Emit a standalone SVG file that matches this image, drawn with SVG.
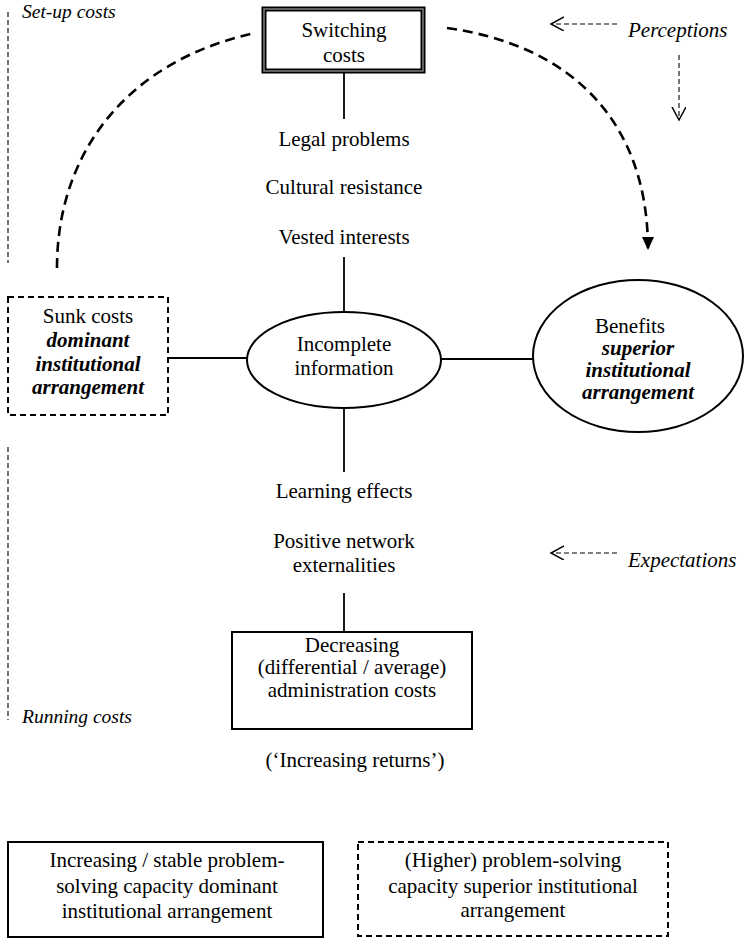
<svg xmlns="http://www.w3.org/2000/svg" width="745" height="939" viewBox="0 0 745 939">
<style>
text{font-family:"Liberation Serif","Times New Roman",serif;font-size:21px;fill:#000;text-anchor:middle}
.it{font-style:italic;text-anchor:start}
.sm{font-size:19.5px}
.bi{font-style:italic;font-weight:bold}
.ln{stroke:#000;stroke-width:1.8;fill:none}
.big{stroke:#000;stroke-width:2.6;fill:none;stroke-dasharray:10 6}
.thin{stroke:#000;stroke-width:1.1;fill:none;stroke-dasharray:5 3}
.box{fill:#fff;stroke:#000;stroke-width:2}
.dbox{fill:#fff;stroke:#000;stroke-width:2;stroke-dasharray:6 4}
</style>
<defs>
<marker id="solid" markerWidth="16" markerHeight="14" refX="13" refY="6" orient="auto" markerUnits="userSpaceOnUse">
<path d="M0,0 L13,6 L0,12 Z" fill="#000"/>
</marker>
<marker id="open" markerWidth="16" markerHeight="16" refX="13" refY="7" orient="auto" markerUnits="userSpaceOnUse">
<path d="M0,0 L13,7 L0,14" fill="none" stroke="#000" stroke-width="1.5"/>
</marker>
</defs>

<g id="connectors">
<line class="ln" x1="344" y1="72" x2="344" y2="119"/>
<line class="ln" x1="344" y1="257" x2="344" y2="312"/>
<line class="ln" x1="344" y1="408" x2="344" y2="472"/>
<line class="ln" x1="344" y1="593" x2="344" y2="632"/>
<line class="ln" x1="168" y1="358" x2="247" y2="358"/>
<line class="ln" x1="441" y1="359" x2="533" y2="359"/>
<path class="big" d="M57,268 C57,150 130,60 255,33"/>
<path class="big" d="M447,28 C570,45 648,120 648,250" marker-end="url(#solid)"/>
<line class="thin" x1="617" y1="24" x2="551" y2="24" marker-end="url(#open)"/>
<line class="thin" x1="679" y1="55" x2="679" y2="120" marker-end="url(#open)"/>
<line class="thin" x1="617" y1="553" x2="551" y2="553" marker-end="url(#open)"/>
<line class="thin" x1="8" y1="12" x2="8" y2="263"/>
<line class="thin" x1="8" y1="447" x2="8" y2="720"/>
</g>

<g id="labels">
<text class="it sm" x="22" y="18">Set-up costs</text>
<text class="it sm" x="22" y="723">Running costs</text>
<text class="it" x="628" y="37">Perceptions</text>
<text class="it" x="628" y="567">Expectations</text>
<text x="344" y="146">Legal problems</text>
<text x="344" y="194">Cultural resistance</text>
<text x="344" y="244">Vested interests</text>
<text x="344" y="498">Learning effects</text>
<text x="344" y="548">Positive network</text>
<text x="344" y="572">externalities</text>
<text x="355" y="767">(‘Increasing returns’)</text>
</g>

<g id="switching">
<rect x="264" y="9" width="159" height="62" fill="#fff" stroke="#000" stroke-width="5"/>
<rect x="264" y="9" width="159" height="62" fill="none" stroke="#888" stroke-width="1.4"/>
<text x="344" y="37">Switching</text>
<text x="344" y="62">costs</text>
</g>

<g id="sunk">
<rect class="dbox" x="8" y="297" width="160" height="118"/>
<text x="88" y="323">Sunk costs</text>
<text class="bi" x="88" y="347">dominant</text>
<text class="bi" x="88" y="371">institutional</text>
<text class="bi" x="88" y="394">arrangement</text>
</g>

<g id="incomplete">
<ellipse cx="344" cy="360" rx="97" ry="48" fill="#fff" stroke="#000" stroke-width="2"/>
<text x="344" y="351">Incomplete</text>
<text x="344" y="375">information</text>
</g>

<g id="benefits">
<ellipse cx="638" cy="356" rx="105" ry="76" fill="#fff" stroke="#000" stroke-width="2"/>
<text x="630" y="333">Benefits</text>
<text class="bi" x="638" y="355">superior</text>
<text class="bi" x="638" y="377">institutional</text>
<text class="bi" x="638" y="399">arrangement</text>
</g>

<g id="decreasing">
<rect class="box" x="232" y="632" width="240" height="97"/>
<text x="352" y="652">Decreasing</text>
<text x="352" y="674">(differential / average)</text>
<text x="352" y="697">administration costs</text>
</g>

<g id="capacity-dominant">
<rect class="box" x="8" y="842" width="315" height="95"/>
<text x="167" y="867">Increasing / stable problem-</text>
<text x="167" y="893">solving capacity dominant</text>
<text x="167" y="918">institutional arrangement</text>
</g>

<g id="capacity-superior">
<rect class="dbox" x="358" y="842" width="310" height="94"/>
<text x="513" y="867">(Higher) problem-solving</text>
<text x="513" y="893">capacity superior institutional</text>
<text x="513" y="917">arrangement</text>
</g>
</svg>
